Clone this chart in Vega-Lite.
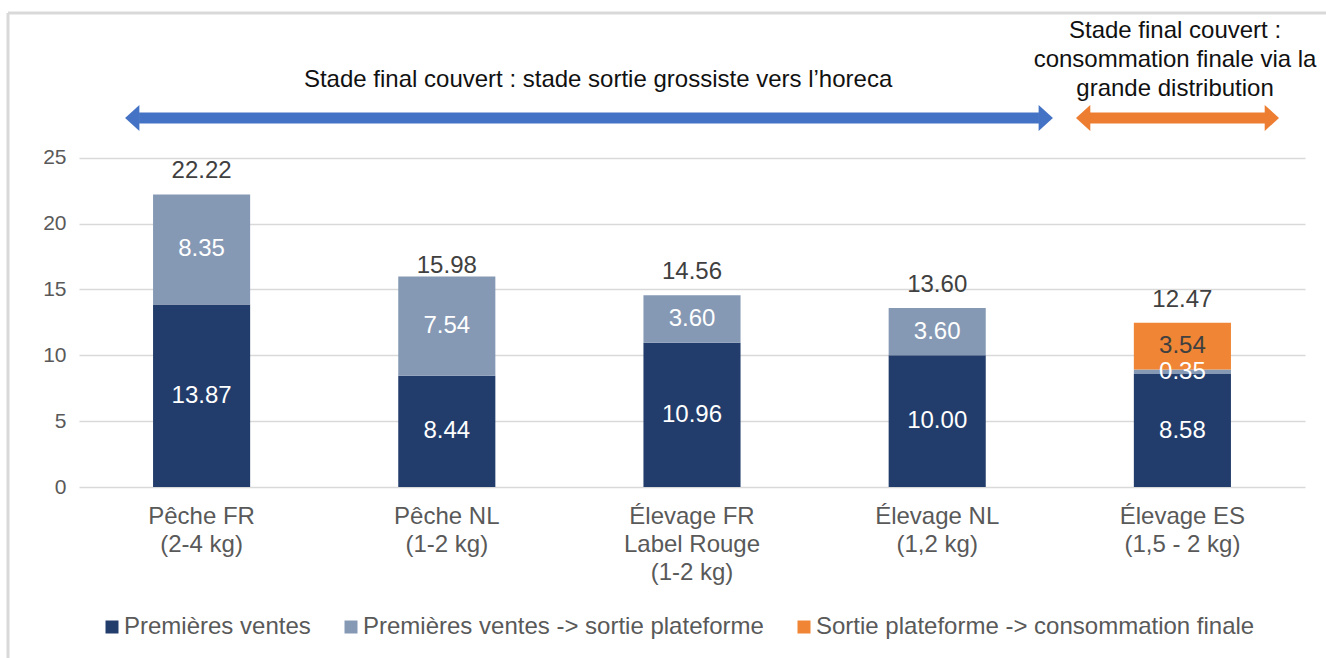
{
  "$schema": "https://vega.github.io/schema/vega-lite/v6.json",
  "autosize": {"type": "none"},
  "padding": {"left": 79, "top": 13, "right": 21, "bottom": 171},
  "width": 1226,
  "height": 474,
  "background": "white",
  "config": {
    "font": "Liberation Sans",
    "view": {"stroke": null}
  },
  "datasets": {
    "costs": [
      {"produit": "Pêche FR|(2-4 kg)", "etape": "Premières ventes", "ordre": 1, "valeur": 13.87},
      {"produit": "Pêche FR|(2-4 kg)", "etape": "Premières ventes -> sortie plateforme", "ordre": 2, "valeur": 8.35},
      {"produit": "Pêche NL|(1-2 kg)", "etape": "Premières ventes", "ordre": 1, "valeur": 8.44},
      {"produit": "Pêche NL|(1-2 kg)", "etape": "Premières ventes -> sortie plateforme", "ordre": 2, "valeur": 7.54},
      {"produit": "Élevage FR|Label Rouge|(1-2 kg)", "etape": "Premières ventes", "ordre": 1, "valeur": 10.96},
      {"produit": "Élevage FR|Label Rouge|(1-2 kg)", "etape": "Premières ventes -> sortie plateforme", "ordre": 2, "valeur": 3.60},
      {"produit": "Élevage NL|(1,2 kg)", "etape": "Premières ventes", "ordre": 1, "valeur": 10.00},
      {"produit": "Élevage NL|(1,2 kg)", "etape": "Premières ventes -> sortie plateforme", "ordre": 2, "valeur": 3.60},
      {"produit": "Élevage ES|(1,5 - 2 kg)", "etape": "Premières ventes", "ordre": 1, "valeur": 8.58},
      {"produit": "Élevage ES|(1,5 - 2 kg)", "etape": "Premières ventes -> sortie plateforme", "ordre": 2, "valeur": 0.35},
      {"produit": "Élevage ES|(1,5 - 2 kg)", "etape": "Sortie plateforme -> consommation finale", "ordre": 3, "valeur": 3.54}
    ],
    "arrows": [
      {"arrow": "horeca", "tipL": 0.188, "tipR": 3.972, "shaftL": 0.245, "shaftR": 3.915, "ay": 28.03},
      {"arrow": "gms", "tipL": 4.066, "tipR": 4.894, "shaftL": 4.123, "shaftR": 4.837, "ay": 28.03}
    ],
    "notes": [
      {"note": "Stade final couvert : stade sortie grossiste vers l’horeca", "nx": 2.117, "ny": 30.91},
      {"note": "Stade final couvert :|consommation finale via la|grande distribution", "nx": 4.47, "ny": 34.6}
    ],
    "frame": [
      {"fx": -0.2896, "fx2": -0.2896, "fy": 36, "fy2": -13.5},
      {"fx": -0.2896, "fx2": 5.3, "fy": 36, "fy2": 36}
    ]
  },
  "layer": [
    {
      "layer": [
        {
          "data": {"name": "costs"},
          "mark": {"type": "bar"},
          "encoding": {
            "x": {
              "field": "produit", "type": "nominal", "sort": null,
              "scale": {"paddingInner": 0.604, "paddingOuter": 0.302},
              "axis": {
                "title": null, "labelExpr": "split(datum.label, '|')", "labelAngle": 0,
                "domain": false, "ticks": false, "labelFontSize": 24, "labelColor": "#595959",
                "labelPadding": 17, "labelLineHeight": 28, "labelBaseline": "top"
              }
            },
            "y": {
              "field": "valeur", "type": "quantitative", "stack": "zero",
              "scale": {"domain": [0, 36], "nice": false},
              "axis": {
                "title": null, "values": [0, 5, 10, 15, 20, 25], "domain": false, "ticks": false,
                "labelFontSize": 21, "labelColor": "#595959", "labelPadding": 13,
                "gridColor": "#D9D9D9", "gridWidth": 1.5
              }
            },
            "color": {
              "field": "etape", "type": "nominal",
              "scale": {
                "domain": ["Premières ventes", "Premières ventes -> sortie plateforme", "Sortie plateforme -> consommation finale"],
                "range": ["#223D6B", "#8699B4", "#EF8535"]
              },
              "legend": {
                "title": null, "orient": "bottom", "direction": "horizontal", "symbolType": "square",
                "symbolSize": 169, "labelFontSize": 24, "labelColor": "#595959", "columnPadding": 28,
                "labelOffset": 0, "offset": 10, "padding": 21, "symbolStrokeWidth": 0, "labelLimit": 800
              }
            },
            "order": {"field": "ordre", "type": "quantitative"}
          }
        },
        {
          "data": {"name": "costs"},
          "transform": [
            {"stack": "valeur", "groupby": ["produit"], "sort": [{"field": "ordre"}], "as": ["v0", "v1"]},
            {"calculate": "(datum.v0 + datum.v1) / 2", "as": "vmid"}
          ],
          "mark": {"type": "text", "fontSize": 24, "baseline": "middle"},
          "encoding": {
            "x": {"field": "produit", "type": "nominal", "sort": null},
            "y": {"field": "vmid", "type": "quantitative"},
            "text": {"field": "valeur", "type": "quantitative", "format": ".2f"},
            "color": {
              "condition": {"test": "datum.etape === 'Sortie plateforme -> consommation finale'", "value": "#404040"},
              "value": "#FFFFFF"
            }
          }
        },
        {
          "data": {"name": "costs"},
          "transform": [{"filter": "datum.produit !== 'Pêche NL|(1-2 kg)'"}],
          "mark": {"type": "text", "fontSize": 24, "baseline": "middle", "dy": -23, "color": "#404040"},
          "encoding": {
            "x": {"field": "produit", "type": "nominal", "sort": null},
            "y": {"aggregate": "sum", "field": "valeur", "type": "quantitative"},
            "text": {"aggregate": "sum", "field": "valeur", "type": "quantitative", "format": ".2f"}
          }
        },
        {
          "data": {"name": "costs"},
          "transform": [{"filter": "datum.produit === 'Pêche NL|(1-2 kg)'"}],
          "mark": {"type": "text", "fontSize": 24, "baseline": "middle", "dy": -11, "color": "#404040"},
          "encoding": {
            "x": {"field": "produit", "type": "nominal", "sort": null},
            "y": {"aggregate": "sum", "field": "valeur", "type": "quantitative"},
            "text": {"aggregate": "sum", "field": "valeur", "type": "quantitative", "format": ".2f"}
          }
        }
      ]
    },
    {
      "layer": [
        {
          "data": {"name": "frame"},
          "mark": {"type": "rule", "color": "#D9D9D9", "strokeWidth": 3},
          "encoding": {
            "x": {"field": "fx", "type": "quantitative", "scale": {"domain": [0, 5], "nice": false, "zero": false}, "axis": null},
            "x2": {"field": "fx2"},
            "y": {"field": "fy", "type": "quantitative", "scale": {"domain": [0, 36], "nice": false}, "axis": null},
            "y2": {"field": "fy2"}
          }
        },
        {
          "data": {"name": "arrows"},
          "mark": {"type": "rule", "strokeWidth": 11},
          "encoding": {
            "x": {"field": "shaftL", "type": "quantitative", "axis": null},
            "x2": {"field": "shaftR"},
            "y": {"field": "ay", "type": "quantitative", "axis": null},
            "color": {"condition": {"test": "datum.arrow === 'horeca'", "value": "#4472C4"}, "value": "#ED7D31"}
          }
        },
        {
          "data": {"name": "arrows"},
          "mark": {"type": "point", "filled": true, "opacity": 1, "size": 676, "shape": "M0,0L1.1,-1L1.1,1Z"},
          "encoding": {
            "x": {"field": "tipL", "type": "quantitative", "axis": null},
            "y": {"field": "ay", "type": "quantitative", "axis": null},
            "color": {"condition": {"test": "datum.arrow === 'horeca'", "value": "#4472C4"}, "value": "#ED7D31"}
          }
        },
        {
          "data": {"name": "arrows"},
          "mark": {"type": "point", "filled": true, "opacity": 1, "size": 676, "shape": "M0,0L-1.1,-1L-1.1,1Z"},
          "encoding": {
            "x": {"field": "tipR", "type": "quantitative", "axis": null},
            "y": {"field": "ay", "type": "quantitative", "axis": null},
            "color": {"condition": {"test": "datum.arrow === 'horeca'", "value": "#4472C4"}, "value": "#ED7D31"}
          }
        },
        {
          "data": {"name": "notes"},
          "mark": {"type": "text", "fontSize": 24, "color": "#111111", "lineBreak": "|", "lineHeight": 29, "baseline": "middle", "align": "center"},
          "encoding": {
            "x": {"field": "nx", "type": "quantitative", "axis": null},
            "y": {"field": "ny", "type": "quantitative", "axis": null},
            "text": {"field": "note"}
          }
        }
      ]
    }
  ],
  "resolve": {"scale": {"x": "independent"}, "axis": {"y": "independent"}}
}
